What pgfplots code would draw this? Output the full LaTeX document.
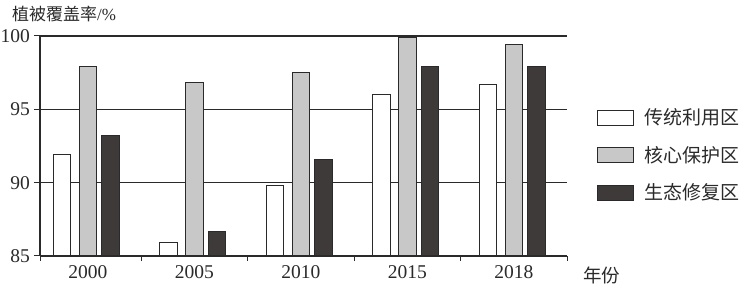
\documentclass[border=0pt]{standalone}
\usepackage{pgfplots}
\pgfplotsset{compat=1.18}
\usepackage{fontspec}
\setmainfont{Liberation Serif}
\newfontfamily\cjk{Noto Sans CJK SC}
\definecolor{ink}{HTML}{2A2A2A}
\definecolor{lgray}{HTML}{C8C8C8}
\definecolor{dgray}{HTML}{3E3A3A}
\pgfplotsset{mylegend/.style={legend image code/.code={\draw[##1] (0pt,-7.5pt) rectangle (36pt,7.5pt); \path (46pt,0pt);}}}
\begin{document}
\begin{tikzpicture}[x=1pt,y=1pt]
\useasboundingbox (0,0) rectangle (745,286);
\begin{axis}[
  at={(40pt,30pt)}, anchor=south west, scale only axis,
  width=527pt, height=220pt,
  ybar, bar width=17.5pt,
  xmin=-0.45, xmax=4.5, ymin=85, ymax=100,
  axis x line*=bottom, axis y line*=left,
  axis line style={ink, line width=1.3pt, -},
  ytick={85,90,95,100},
  tick align=outside, major tick length=6pt,
  tick style={ink, line width=1pt},
  ymajorgrids, grid style={ink, line width=1.2pt},
  xtick={0,1,2,3,4}, xticklabels={2000,2005,2010,2015,2018},
  major x tick style={draw=none},
  minor xtick={-0.45,0.5,1.5,2.5,3.5,4.5}, minor tick length=5pt,
  minor x tick style={ink, line width=1pt},
  /pgf/number format/assume math mode=true,
  ticklabel style={font=\fontsize{19.5}{20}\selectfont, text=ink, inner sep=0pt},
  yticklabel style={anchor=east, xshift=-4pt},
  xticklabel style={anchor=north, yshift=-3pt},
  legend style={at={(axis description cs:1.057,0.67)}, anchor=north west,
    draw=none, fill=none, inner sep=0pt, row sep=20pt,
    font=\cjk\fontsize{19}{19}\selectfont, text=ink,
    nodes={inner sep=0pt}},
  legend cell align=left,
]
\addplot[draw=ink, fill=white, line width=1pt, bar shift=-26pt, mylegend]
  coordinates {(0,91.9) (1,85.9) (2,89.8) (3,96.0) (4,96.7)};
\addplot[draw=ink, fill=lgray, line width=1pt, bar shift=0pt, mylegend]
  coordinates {(0,97.9) (1,96.8) (2,97.5) (3,99.9) (4,99.4)};
\addplot[draw=ink, fill=dgray, line width=1pt, bar shift=22.5pt, mylegend]
  coordinates {(0,93.2) (1,86.7) (2,91.6) (3,97.9) (4,97.9)};
\legend{传统利用区,核心保护区,生态修复区}
\end{axis}
\node[anchor=west, text=ink, inner sep=0pt] at (12,272) {{\cjk\fontsize{17}{17}\selectfont 植被覆盖率}{\fontsize{17}{17}\selectfont/\%}};
\node[anchor=west, text=ink, inner sep=0pt] at (583,11) {\cjk\fontsize{18.5}{18.5}\selectfont 年份};
\end{tikzpicture}
\end{document}
